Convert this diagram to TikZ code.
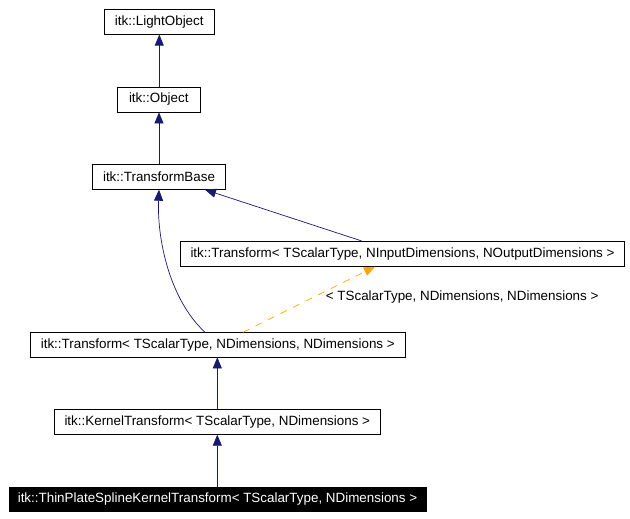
\documentclass[tikz,border=0pt]{standalone}
\usepackage{fontspec}
\setmainfont{Liberation Sans}
\usetikzlibrary{arrows.meta}
\definecolor{edgeblue}{HTML}{191970}
\definecolor{edgeorange}{HTML}{FFA500}
\tikzset{
  cls/.style={draw=black, line width=0.8pt, fill=white, inner sep=0pt, minimum height=25pt, font=\fontsize{13.4}{15}\selectfont},
  clsdark/.style={cls, fill=black, text=white},
  inh/.style={draw=edgeblue, line width=0.7pt, -{Triangle[length=11pt,width=9pt]}},
  tmpl/.style={draw=edgeorange, line width=0.7pt, dash pattern=on 7pt off 7pt, -{Triangle[length=11pt,width=9pt]}},
  lbl/.style={font=\fontsize{13.4}{15}\selectfont, inner sep=0pt, anchor=west}
}
\begin{document}
\begin{tikzpicture}[x=1pt,y=-1pt]
\useasboundingbox (0,0) rectangle (630,519);
\node[cls, minimum width=110pt] (lo) at (159.3,21.7) {itk::LightObject};
\node[cls, minimum width=83pt] (ob) at (158.8,99.5) {itk::Object};
\node[cls, minimum width=132.6pt] (tb) at (159,176.8) {itk::TransformBase};
\node[cls, minimum width=443.6pt] (ti) at (402.5,253.8) {itk::Transform< TScalarType, NInputDimensions, NOutputDimensions >};
\node[cls, minimum width=375pt, minimum height=24.3pt] (tn) at (217.8,344.8) {itk::Transform< TScalarType, NDimensions, NDimensions >};
\node[cls, minimum width=326pt] (kt) at (217.3,421.8) {itk::KernelTransform< TScalarType, NDimensions >};
\node[clsdark, minimum width=417pt, minimum height=24.7pt] (tp) at (217.5,499.3) {itk::ThinPlateSplineKernelTransform< TScalarType, NDimensions >};

\draw[inh] (ob.north -| lo.south) -- (lo.south);
\draw[inh] (tb.north) -- (tb.north |- ob.south);
\draw[inh] (tn.north -| 205,0) .. controls (170,300) and (157,240) .. (tb.south);
\draw[inh] (ti.north -| 361.5,0) -- (tb.south -| 205,0);
\draw[tmpl] (tn.north -| 243,0) -- (ti.south -| 375,0);
\node[lbl] (tl) at (325.7,297.3) {< TScalarType, NDimensions, NDimensions >};
\draw[inh] (kt.north) -- (kt.north |- tn.south);
\draw[inh] (tp.north -| kt.south) -- (kt.south);
\end{tikzpicture}
\end{document}
